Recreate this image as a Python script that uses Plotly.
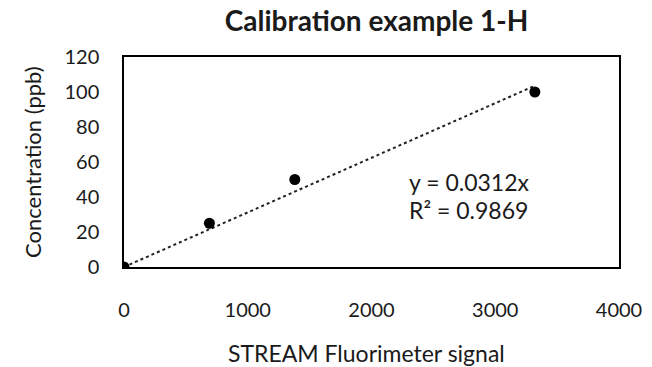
import plotly.graph_objects as go

signal = [0, 690, 1380, 3320]
concentration = [0, 25, 50, 100]
slope = 0.0312
r2 = 0.9869
trend_x = [0, 3320]
trend_y = [slope * v for v in trend_x]
x_ticks = [0, 1000, 2000, 3000, 4000]
y_ticks = [0, 20, 40, 60, 80, 100, 120]
title_text = "Calibration example 1-H"
x_title = "STREAM Fluorimeter signal"
y_title = "Concentration (ppb)"

FONT = "Lato, Open Sans, sans-serif"
TXT = "#1a1a1a"
W, H = 652, 367
L, R, T, B = 124, 33, 57, 100

fig = go.Figure()
fig.add_trace(go.Scatter(x=trend_x, y=trend_y, mode="lines",
                         line=dict(color="#222222", width=2, dash="dot"),
                         showlegend=False, hoverinfo="skip"))
fig.add_trace(go.Scatter(x=signal, y=concentration, mode="markers",
                         marker=dict(color="black", size=11),
                         showlegend=False))

fig.add_annotation(x=2283, y=48.5, xref="x", yref="y", xanchor="left", yanchor="middle",
                   text=f"y = {slope}x", showarrow=False,
                   font=dict(family=FONT, size=23, color=TXT))
fig.add_annotation(x=2283, y=32.3, xref="x", yref="y", xanchor="left", yanchor="middle",
                   text=f"R² = {r2}", showarrow=False,
                   font=dict(family=FONT, size=23, color=TXT))

# axis titles
pw = W - L - R
fig.add_annotation(x=(366 - L) / pw, y=0, xref="paper", yref="paper",
                   xanchor="center", yanchor="middle", yshift=-(353 - (H - B)),
                   text=x_title, showarrow=False,
                   font=dict(family=FONT, size=23, color=TXT))
fig.add_annotation(x=0, y=0.5, xref="paper", yref="paper",
                   xanchor="center", yanchor="middle", xshift=32 - L, textangle=-90,
                   text=y_title, showarrow=False,
                   font=dict(family=FONT, size=22, color=TXT))

fig.update_layout(
    width=W, height=H,
    margin=dict(l=L, r=R, t=T, b=B, autoexpand=False),
    paper_bgcolor="white", plot_bgcolor="white",
    font=dict(family=FONT, size=21, color=TXT),
    title=dict(text=f"<b>{title_text}</b>", x=376.5 / W, xanchor="center",
               y=1 - 21 / H, yanchor="middle",
               font=dict(family=FONT, size=28, color=TXT)),
    xaxis=dict(range=[0, 4000], tickvals=x_ticks, showgrid=False, zeroline=False,
               showline=True, linecolor="black", linewidth=1.5, mirror=True,
               ticks="", ticklabelstandoff=24, automargin=False,
               tickfont=dict(family=FONT, size=20, color=TXT)),
    yaxis=dict(range=[0, 120], tickvals=y_ticks, showgrid=False, zeroline=False,
               showline=True, linecolor="black", linewidth=1.5, mirror=True,
               ticks="", ticklabelstandoff=19, automargin=False,
               tickfont=dict(family=FONT, size=20, color=TXT)),
)

fig.write_html("out.html", config={"displayModeBar": False},
               post_script="document.body.style.margin='0';")
